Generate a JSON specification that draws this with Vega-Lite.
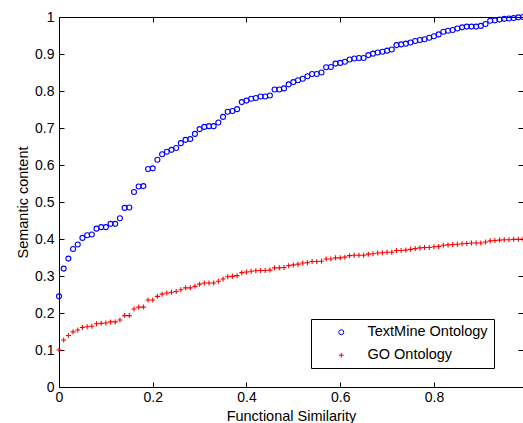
{
  "$schema": "https://vega.github.io/schema/vega-lite/v6.json",
  "width": 464,
  "height": 370,
  "autosize": {"type": "none"},
  "padding": {"left": 59, "top": 17, "right": 0, "bottom": 36},
  "background": "white",
  "config": {
    "view": {"stroke": "black", "strokeWidth": 1},
    "font": "Liberation Sans",
    "axis": {
      "grid": false,
      "domain": false,
      "tickColor": "black",
      "tickSize": -5,
      "labelFont": "Liberation Sans",
      "labelFontSize": 14,
      "labelColor": "black",
      "titleFont": "Liberation Sans",
      "titleFontSize": 14.5,
      "titleFontWeight": "normal",
      "titleColor": "black"
    }
  },
  "data": {
    "values": [
      {"series": "TextMine Ontology", "x": 0.00, "y": 0.245},
      {"series": "TextMine Ontology", "x": 0.01, "y": 0.320},
      {"series": "TextMine Ontology", "x": 0.02, "y": 0.347},
      {"series": "TextMine Ontology", "x": 0.03, "y": 0.373},
      {"series": "TextMine Ontology", "x": 0.04, "y": 0.385},
      {"series": "TextMine Ontology", "x": 0.05, "y": 0.403},
      {"series": "TextMine Ontology", "x": 0.06, "y": 0.410},
      {"series": "TextMine Ontology", "x": 0.07, "y": 0.412},
      {"series": "TextMine Ontology", "x": 0.08, "y": 0.428},
      {"series": "TextMine Ontology", "x": 0.09, "y": 0.432},
      {"series": "TextMine Ontology", "x": 0.10, "y": 0.432},
      {"series": "TextMine Ontology", "x": 0.11, "y": 0.441},
      {"series": "TextMine Ontology", "x": 0.12, "y": 0.441},
      {"series": "TextMine Ontology", "x": 0.13, "y": 0.456},
      {"series": "TextMine Ontology", "x": 0.14, "y": 0.484},
      {"series": "TextMine Ontology", "x": 0.15, "y": 0.485},
      {"series": "TextMine Ontology", "x": 0.16, "y": 0.527},
      {"series": "TextMine Ontology", "x": 0.17, "y": 0.542},
      {"series": "TextMine Ontology", "x": 0.18, "y": 0.543},
      {"series": "TextMine Ontology", "x": 0.19, "y": 0.589},
      {"series": "TextMine Ontology", "x": 0.20, "y": 0.591},
      {"series": "TextMine Ontology", "x": 0.21, "y": 0.614},
      {"series": "TextMine Ontology", "x": 0.22, "y": 0.629},
      {"series": "TextMine Ontology", "x": 0.23, "y": 0.636},
      {"series": "TextMine Ontology", "x": 0.24, "y": 0.641},
      {"series": "TextMine Ontology", "x": 0.25, "y": 0.646},
      {"series": "TextMine Ontology", "x": 0.26, "y": 0.659},
      {"series": "TextMine Ontology", "x": 0.27, "y": 0.668},
      {"series": "TextMine Ontology", "x": 0.28, "y": 0.670},
      {"series": "TextMine Ontology", "x": 0.29, "y": 0.684},
      {"series": "TextMine Ontology", "x": 0.30, "y": 0.697},
      {"series": "TextMine Ontology", "x": 0.31, "y": 0.703},
      {"series": "TextMine Ontology", "x": 0.32, "y": 0.705},
      {"series": "TextMine Ontology", "x": 0.33, "y": 0.705},
      {"series": "TextMine Ontology", "x": 0.34, "y": 0.715},
      {"series": "TextMine Ontology", "x": 0.35, "y": 0.730},
      {"series": "TextMine Ontology", "x": 0.36, "y": 0.744},
      {"series": "TextMine Ontology", "x": 0.37, "y": 0.746},
      {"series": "TextMine Ontology", "x": 0.38, "y": 0.751},
      {"series": "TextMine Ontology", "x": 0.39, "y": 0.770},
      {"series": "TextMine Ontology", "x": 0.40, "y": 0.774},
      {"series": "TextMine Ontology", "x": 0.41, "y": 0.779},
      {"series": "TextMine Ontology", "x": 0.42, "y": 0.781},
      {"series": "TextMine Ontology", "x": 0.43, "y": 0.785},
      {"series": "TextMine Ontology", "x": 0.44, "y": 0.785},
      {"series": "TextMine Ontology", "x": 0.45, "y": 0.788},
      {"series": "TextMine Ontology", "x": 0.46, "y": 0.804},
      {"series": "TextMine Ontology", "x": 0.47, "y": 0.804},
      {"series": "TextMine Ontology", "x": 0.48, "y": 0.807},
      {"series": "TextMine Ontology", "x": 0.49, "y": 0.818},
      {"series": "TextMine Ontology", "x": 0.50, "y": 0.824},
      {"series": "TextMine Ontology", "x": 0.51, "y": 0.829},
      {"series": "TextMine Ontology", "x": 0.52, "y": 0.833},
      {"series": "TextMine Ontology", "x": 0.53, "y": 0.840},
      {"series": "TextMine Ontology", "x": 0.54, "y": 0.846},
      {"series": "TextMine Ontology", "x": 0.55, "y": 0.846},
      {"series": "TextMine Ontology", "x": 0.56, "y": 0.850},
      {"series": "TextMine Ontology", "x": 0.57, "y": 0.864},
      {"series": "TextMine Ontology", "x": 0.58, "y": 0.865},
      {"series": "TextMine Ontology", "x": 0.59, "y": 0.874},
      {"series": "TextMine Ontology", "x": 0.60, "y": 0.876},
      {"series": "TextMine Ontology", "x": 0.61, "y": 0.879},
      {"series": "TextMine Ontology", "x": 0.62, "y": 0.885},
      {"series": "TextMine Ontology", "x": 0.63, "y": 0.888},
      {"series": "TextMine Ontology", "x": 0.64, "y": 0.889},
      {"series": "TextMine Ontology", "x": 0.65, "y": 0.889},
      {"series": "TextMine Ontology", "x": 0.66, "y": 0.897},
      {"series": "TextMine Ontology", "x": 0.67, "y": 0.901},
      {"series": "TextMine Ontology", "x": 0.68, "y": 0.904},
      {"series": "TextMine Ontology", "x": 0.69, "y": 0.906},
      {"series": "TextMine Ontology", "x": 0.70, "y": 0.909},
      {"series": "TextMine Ontology", "x": 0.71, "y": 0.912},
      {"series": "TextMine Ontology", "x": 0.72, "y": 0.924},
      {"series": "TextMine Ontology", "x": 0.73, "y": 0.926},
      {"series": "TextMine Ontology", "x": 0.74, "y": 0.928},
      {"series": "TextMine Ontology", "x": 0.75, "y": 0.931},
      {"series": "TextMine Ontology", "x": 0.76, "y": 0.935},
      {"series": "TextMine Ontology", "x": 0.77, "y": 0.938},
      {"series": "TextMine Ontology", "x": 0.78, "y": 0.940},
      {"series": "TextMine Ontology", "x": 0.79, "y": 0.944},
      {"series": "TextMine Ontology", "x": 0.80, "y": 0.948},
      {"series": "TextMine Ontology", "x": 0.81, "y": 0.953},
      {"series": "TextMine Ontology", "x": 0.82, "y": 0.960},
      {"series": "TextMine Ontology", "x": 0.83, "y": 0.963},
      {"series": "TextMine Ontology", "x": 0.84, "y": 0.965},
      {"series": "TextMine Ontology", "x": 0.85, "y": 0.969},
      {"series": "TextMine Ontology", "x": 0.86, "y": 0.972},
      {"series": "TextMine Ontology", "x": 0.87, "y": 0.974},
      {"series": "TextMine Ontology", "x": 0.88, "y": 0.974},
      {"series": "TextMine Ontology", "x": 0.89, "y": 0.974},
      {"series": "TextMine Ontology", "x": 0.90, "y": 0.976},
      {"series": "TextMine Ontology", "x": 0.91, "y": 0.981},
      {"series": "TextMine Ontology", "x": 0.92, "y": 0.990},
      {"series": "TextMine Ontology", "x": 0.93, "y": 0.991},
      {"series": "TextMine Ontology", "x": 0.94, "y": 0.993},
      {"series": "TextMine Ontology", "x": 0.95, "y": 0.995},
      {"series": "TextMine Ontology", "x": 0.96, "y": 0.996},
      {"series": "TextMine Ontology", "x": 0.97, "y": 0.997},
      {"series": "TextMine Ontology", "x": 0.98, "y": 0.999},
      {"series": "TextMine Ontology", "x": 0.99, "y": 1.000},
      {"series": "GO Ontology", "x": 0.00, "y": 0.100},
      {"series": "GO Ontology", "x": 0.01, "y": 0.127},
      {"series": "GO Ontology", "x": 0.02, "y": 0.139},
      {"series": "GO Ontology", "x": 0.03, "y": 0.149},
      {"series": "GO Ontology", "x": 0.04, "y": 0.154},
      {"series": "GO Ontology", "x": 0.05, "y": 0.161},
      {"series": "GO Ontology", "x": 0.06, "y": 0.163},
      {"series": "GO Ontology", "x": 0.07, "y": 0.164},
      {"series": "GO Ontology", "x": 0.08, "y": 0.171},
      {"series": "GO Ontology", "x": 0.09, "y": 0.172},
      {"series": "GO Ontology", "x": 0.10, "y": 0.173},
      {"series": "GO Ontology", "x": 0.11, "y": 0.176},
      {"series": "GO Ontology", "x": 0.12, "y": 0.176},
      {"series": "GO Ontology", "x": 0.13, "y": 0.181},
      {"series": "GO Ontology", "x": 0.14, "y": 0.193},
      {"series": "GO Ontology", "x": 0.15, "y": 0.193},
      {"series": "GO Ontology", "x": 0.16, "y": 0.211},
      {"series": "GO Ontology", "x": 0.17, "y": 0.216},
      {"series": "GO Ontology", "x": 0.18, "y": 0.216},
      {"series": "GO Ontology", "x": 0.19, "y": 0.235},
      {"series": "GO Ontology", "x": 0.20, "y": 0.235},
      {"series": "GO Ontology", "x": 0.21, "y": 0.245},
      {"series": "GO Ontology", "x": 0.22, "y": 0.251},
      {"series": "GO Ontology", "x": 0.23, "y": 0.254},
      {"series": "GO Ontology", "x": 0.24, "y": 0.256},
      {"series": "GO Ontology", "x": 0.25, "y": 0.258},
      {"series": "GO Ontology", "x": 0.26, "y": 0.263},
      {"series": "GO Ontology", "x": 0.27, "y": 0.268},
      {"series": "GO Ontology", "x": 0.28, "y": 0.268},
      {"series": "GO Ontology", "x": 0.29, "y": 0.272},
      {"series": "GO Ontology", "x": 0.30, "y": 0.278},
      {"series": "GO Ontology", "x": 0.31, "y": 0.281},
      {"series": "GO Ontology", "x": 0.32, "y": 0.281},
      {"series": "GO Ontology", "x": 0.33, "y": 0.281},
      {"series": "GO Ontology", "x": 0.34, "y": 0.286},
      {"series": "GO Ontology", "x": 0.35, "y": 0.292},
      {"series": "GO Ontology", "x": 0.36, "y": 0.298},
      {"series": "GO Ontology", "x": 0.37, "y": 0.299},
      {"series": "GO Ontology", "x": 0.38, "y": 0.301},
      {"series": "GO Ontology", "x": 0.39, "y": 0.309},
      {"series": "GO Ontology", "x": 0.40, "y": 0.311},
      {"series": "GO Ontology", "x": 0.41, "y": 0.313},
      {"series": "GO Ontology", "x": 0.42, "y": 0.314},
      {"series": "GO Ontology", "x": 0.43, "y": 0.315},
      {"series": "GO Ontology", "x": 0.44, "y": 0.315},
      {"series": "GO Ontology", "x": 0.45, "y": 0.316},
      {"series": "GO Ontology", "x": 0.46, "y": 0.322},
      {"series": "GO Ontology", "x": 0.47, "y": 0.322},
      {"series": "GO Ontology", "x": 0.48, "y": 0.323},
      {"series": "GO Ontology", "x": 0.49, "y": 0.328},
      {"series": "GO Ontology", "x": 0.50, "y": 0.330},
      {"series": "GO Ontology", "x": 0.51, "y": 0.332},
      {"series": "GO Ontology", "x": 0.52, "y": 0.335},
      {"series": "GO Ontology", "x": 0.53, "y": 0.336},
      {"series": "GO Ontology", "x": 0.54, "y": 0.339},
      {"series": "GO Ontology", "x": 0.55, "y": 0.339},
      {"series": "GO Ontology", "x": 0.56, "y": 0.340},
      {"series": "GO Ontology", "x": 0.57, "y": 0.346},
      {"series": "GO Ontology", "x": 0.58, "y": 0.346},
      {"series": "GO Ontology", "x": 0.59, "y": 0.349},
      {"series": "GO Ontology", "x": 0.60, "y": 0.349},
      {"series": "GO Ontology", "x": 0.61, "y": 0.351},
      {"series": "GO Ontology", "x": 0.62, "y": 0.355},
      {"series": "GO Ontology", "x": 0.63, "y": 0.356},
      {"series": "GO Ontology", "x": 0.64, "y": 0.356},
      {"series": "GO Ontology", "x": 0.65, "y": 0.356},
      {"series": "GO Ontology", "x": 0.66, "y": 0.359},
      {"series": "GO Ontology", "x": 0.67, "y": 0.360},
      {"series": "GO Ontology", "x": 0.68, "y": 0.362},
      {"series": "GO Ontology", "x": 0.69, "y": 0.363},
      {"series": "GO Ontology", "x": 0.70, "y": 0.364},
      {"series": "GO Ontology", "x": 0.71, "y": 0.364},
      {"series": "GO Ontology", "x": 0.72, "y": 0.369},
      {"series": "GO Ontology", "x": 0.73, "y": 0.369},
      {"series": "GO Ontology", "x": 0.74, "y": 0.370},
      {"series": "GO Ontology", "x": 0.75, "y": 0.372},
      {"series": "GO Ontology", "x": 0.76, "y": 0.374},
      {"series": "GO Ontology", "x": 0.77, "y": 0.376},
      {"series": "GO Ontology", "x": 0.78, "y": 0.377},
      {"series": "GO Ontology", "x": 0.79, "y": 0.377},
      {"series": "GO Ontology", "x": 0.80, "y": 0.379},
      {"series": "GO Ontology", "x": 0.81, "y": 0.380},
      {"series": "GO Ontology", "x": 0.82, "y": 0.383},
      {"series": "GO Ontology", "x": 0.83, "y": 0.384},
      {"series": "GO Ontology", "x": 0.84, "y": 0.385},
      {"series": "GO Ontology", "x": 0.85, "y": 0.386},
      {"series": "GO Ontology", "x": 0.86, "y": 0.387},
      {"series": "GO Ontology", "x": 0.87, "y": 0.388},
      {"series": "GO Ontology", "x": 0.88, "y": 0.389},
      {"series": "GO Ontology", "x": 0.89, "y": 0.389},
      {"series": "GO Ontology", "x": 0.90, "y": 0.389},
      {"series": "GO Ontology", "x": 0.91, "y": 0.392},
      {"series": "GO Ontology", "x": 0.92, "y": 0.395},
      {"series": "GO Ontology", "x": 0.93, "y": 0.396},
      {"series": "GO Ontology", "x": 0.94, "y": 0.397},
      {"series": "GO Ontology", "x": 0.95, "y": 0.398},
      {"series": "GO Ontology", "x": 0.96, "y": 0.398},
      {"series": "GO Ontology", "x": 0.97, "y": 0.399},
      {"series": "GO Ontology", "x": 0.98, "y": 0.399},
      {"series": "GO Ontology", "x": 0.99, "y": 0.400}
    ]
  },
  "layer": [
    {
      "mark": {"type": "point", "filled": false, "strokeWidth": 1.1, "size": 25, "opacity": 1},
      "encoding": {
        "x": {
          "field": "x", "type": "quantitative",
          "scale": {"domain": [0, 0.99], "nice": false, "zero": false},
          "axis": {"values": [0, 0.2, 0.4, 0.6, 0.8], "format": "~g", "title": "Functional Similarity", "labelPadding": 8, "titlePadding": 5, "labelFlush": false}
        },
        "y": {
          "field": "y", "type": "quantitative",
          "scale": {"domain": [0, 1], "nice": false, "zero": false},
          "axis": {"values": [0, 0.1, 0.2, 0.3, 0.4, 0.5, 0.6, 0.7, 0.8, 0.9, 1], "format": "~g", "title": "Semantic content", "labelPadding": 10, "titlePadding": 4, "labelFlush": false}
        },
        "color": {
          "field": "series", "type": "nominal",
          "scale": {"domain": ["TextMine Ontology", "GO Ontology"], "range": ["#0000ff", "#ff0000"]},
          "legend": {"title": null, "orient": "none", "legendX": 252, "legendY": 302, "strokeColor": "black", "fillColor": "white", "padding": 6, "symbolOffset": 17, "labelOffset": 19, "labelFontSize": 14.5, "labelColor": "black", "labelFont": "Liberation Sans", "rowPadding": 8, "symbolSize": 25, "symbolStrokeWidth": 1}
        },
        "shape": {
          "field": "series", "type": "nominal",
          "scale": {"domain": ["TextMine Ontology", "GO Ontology"], "range": ["circle", "M-1,0H1M0,-1V1"]},
          "legend": {"title": null, "orient": "none", "legendX": 252, "legendY": 302, "strokeColor": "black", "fillColor": "white", "padding": 6, "symbolOffset": 17, "labelOffset": 19, "labelFontSize": 14.5, "labelColor": "black", "labelFont": "Liberation Sans", "rowPadding": 8, "symbolSize": 25, "symbolStrokeWidth": 1}
        }
      }
    },
    {
      "mark": {"type": "point", "opacity": 0},
      "encoding": {
        "x": {"field": "x", "type": "quantitative", "axis": {"orient": "top", "values": [0.2, 0.4, 0.6, 0.8], "labels": false, "title": null}},
        "y": {"field": "y", "type": "quantitative", "axis": {"orient": "right", "values": [0.1, 0.2, 0.3, 0.4, 0.5, 0.6, 0.7, 0.8, 0.9], "labels": false, "title": null}}
      }
    }
  ],
  "resolve": {"axis": {"x": "independent", "y": "independent"}}
}
